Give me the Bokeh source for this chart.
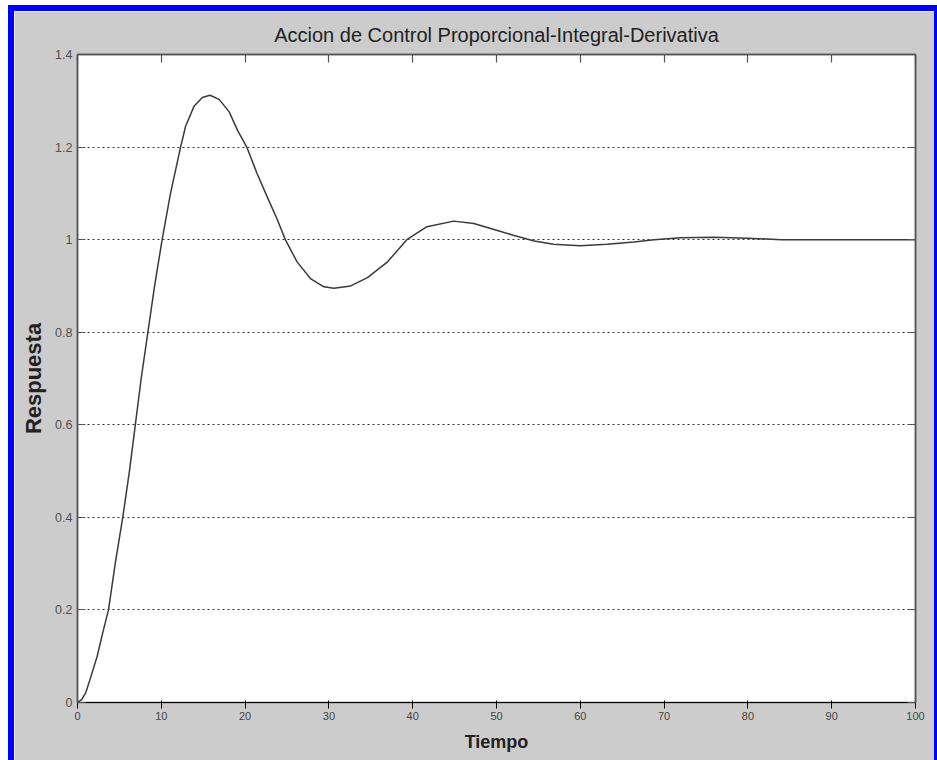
from bokeh.plotting import figure
from bokeh.models import LinearAxis, FixedTicker, CustomJSTickFormatter, Range1d
from bokeh.embed import file_html
from bokeh.resources import INLINE

# ---- data ----
tiempo = [0, 0.5, 1, 1.5, 2.35, 3, 3.7, 4.5, 5.4, 6.2, 6.9, 7.6, 8.4, 9.2, 10.1,
          11.1, 12.3, 12.9, 13.9, 14.9, 15.8, 16.9, 18.1, 19.1, 20.2, 21.4, 22.6,
          23.8, 24.8, 26.2, 27.8, 29.4, 30.6, 32.6, 34.6, 37.0, 39.3, 41.7, 44.9,
          47.3, 49.7, 52.1, 54.5, 56.8, 60.0, 63.2, 66.4, 68.8, 72, 76, 80, 84, 90, 100]
respuesta = [0, 0.006, 0.022, 0.05, 0.10, 0.15, 0.2, 0.3, 0.4, 0.5, 0.6, 0.7, 0.8,
             0.9, 1.0, 1.1, 1.2, 1.245, 1.288, 1.307, 1.312, 1.303, 1.276, 1.236,
             1.2, 1.144, 1.094, 1.045, 1.0, 0.952, 0.916, 0.898, 0.895, 0.900,
             0.918, 0.952, 1.0, 1.028, 1.040, 1.035, 1.022, 1.009, 0.997, 0.99,
             0.987, 0.990, 0.995, 1.0, 1.004, 1.005, 1.003, 1.0, 1.0, 1.0]
x_ticks = [0, 10, 20, 30, 40, 50, 60, 70, 80, 90, 100]
y_ticks = [0, 0.2, 0.4, 0.6, 0.8, 1.0, 1.2, 1.4]
y_tick_labels = ["0", "0.2", "0.4", "0.6", "0.8", "1", "1.2", "1.4"]
title_text = "Accion de Control Proporcional-Integral-Derivativa"
x_label = "Tiempo"
y_label = "Respuesta"

GRAY = "#CCCCCC"
AX = "#555555"
FONT = "Liberation Sans"

p = figure(width=920, height=749, output_backend="svg", toolbar_location=None,
           x_range=Range1d(0, 100), y_range=Range1d(0, 1.4),
           min_border_left=63, min_border_right=19, min_border_top=43,
           min_border_bottom=58, title=title_text)
p.styles = {"outline": "6px solid #0000FF", "margin-left": "14px", "margin-top": "11px"}

p.background_fill_color = "white"
p.border_fill_color = GRAY
p.outline_line_color = AX
p.outline_line_width = 1.5

p.title.align = "center"
p.title.text_font = FONT
p.title.text_font_size = "20px"
p.title.text_font_style = "normal"
p.title.text_color = "#222222"
p.title.standoff = 18

p.xgrid.visible = False
p.ygrid.ticker = FixedTicker(ticks=y_ticks[1:-1])
p.ygrid.grid_line_color = "#333333"
p.ygrid.grid_line_dash = "2 3"
p.ygrid.grid_line_width = 1

for ax in p.xaxis:
    ax.ticker = FixedTicker(ticks=x_ticks)
    ax.axis_label = x_label
    ax.axis_label_standoff = 9
    ax.major_label_standoff = 3
for ax in p.yaxis:
    ax.ticker = FixedTicker(ticks=y_ticks)
    ax.major_label_overrides = {v: s for v, s in zip(y_ticks, y_tick_labels)}
    ax.axis_label = y_label
    ax.axis_label_standoff = 6
    ax.major_label_standoff = 5

for ax, size in ((p.xaxis[0], "18px"), (p.yaxis[0], "22px")):
    ax.axis_label_text_font = FONT
    ax.axis_label_text_font_size = size
    ax.axis_label_text_font_style = "bold"
    ax.axis_label_text_color = "#222222"

empty = CustomJSTickFormatter(code="return ''")
top = LinearAxis(ticker=FixedTicker(ticks=x_ticks), formatter=empty)
right = LinearAxis(ticker=FixedTicker(ticks=y_ticks), formatter=empty)
p.add_layout(top, "above")
p.add_layout(right, "right")

for ax in (p.xaxis[0], p.yaxis[0], top, right):
    ax.major_tick_in = 8
    ax.major_tick_out = 0
    ax.minor_tick_in = 0
    ax.minor_tick_out = 0
    ax.axis_line_color = AX
    ax.axis_line_width = 1.5
    ax.major_tick_line_color = AX
    ax.major_tick_line_width = 1.2
    ax.major_label_text_font = FONT
    ax.major_label_text_font_size = "12.5px"
    ax.major_label_text_color = "#505050"
for ax in (top, right):
    ax.major_label_standoff = 0

p.line(tiempo, respuesta, line_color="#3a3a3a", line_width=1.5)

open("out.html", "w").write(file_html(p, INLINE))
